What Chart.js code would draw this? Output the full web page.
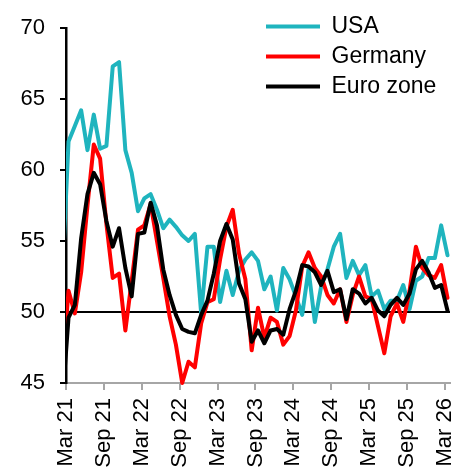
<!DOCTYPE html>
<html>
<head>
<meta charset="utf-8">
<script src="https://cdn.jsdelivr.net/npm/chart.js@4.4.1/dist/chart.umd.min.js"></script>
<style>
  html, body { margin: 0; padding: 0; background: #fff; }
  #wrap { width: 455px; height: 468px; }
</style>
</head>
<body>
<div id="wrap"><canvas id="pmi"></canvas></div>
<script>
// monthly readings, Feb 21 .. Mar 26 (Feb 21 sits just left of the axis and gets clipped)
const months = [
  'Feb 21', 'Mar 21', 'Apr 21', 'May 21', 'Jun 21', 'Jul 21', 'Aug 21', 'Sep 21', 'Oct 21', 'Nov 21', 'Dec 21',
  'Jan 22', 'Feb 22', 'Mar 22', 'Apr 22', 'May 22', 'Jun 22', 'Jul 22', 'Aug 22', 'Sep 22', 'Oct 22', 'Nov 22', 'Dec 22',
  'Jan 23', 'Feb 23', 'Mar 23', 'Apr 23', 'May 23', 'Jun 23', 'Jul 23', 'Aug 23', 'Sep 23', 'Oct 23', 'Nov 23', 'Dec 23',
  'Jan 24', 'Feb 24', 'Mar 24', 'Apr 24', 'May 24', 'Jun 24', 'Jul 24', 'Aug 24', 'Sep 24', 'Oct 24', 'Nov 24', 'Dec 24',
  'Jan 25', 'Feb 25', 'Mar 25', 'Apr 25', 'May 25', 'Jun 25', 'Jul 25', 'Aug 25', 'Sep 25', 'Oct 25', 'Nov 25', 'Dec 25',
  'Jan 26', 'Feb 26', 'Mar 26'
];

const tickLabels = ['Mar 21', 'Sep 21', 'Mar 22', 'Sep 22', 'Mar 23', 'Sep 23', 'Mar 24', 'Sep 24', 'Mar 25', 'Sep 25', 'Mar 26'];
const yTicks = [45, 50, 55, 60, 65, 70];

const usa = [52.3,
  62.0, 63.1, 64.2, 61.4, 63.9, 61.5, 61.7, 67.3, 67.6, 61.4,
  59.8, 57.1, 58.0, 58.3, 57.2, 55.9, 56.5, 56.0, 55.4, 55.0, 55.5, 49.9,
  54.6, 54.6, 50.7, 52.9, 51.2, 52.9, 53.7, 54.2, 53.6, 51.6, 52.5, 50.1,
  53.1, 52.3, 51.1, 49.8, 53.0, 49.3, 51.8, 53.0, 54.6, 55.5, 52.4, 53.6,
  52.6, 53.3, 51.1, 51.5, 50.2, 50.8, 50.8, 51.9, 50.2, 52.2, 52.5, 53.8,
  53.8, 56.1, 54.0];

const germany = [45.7,
  51.5, 49.9, 52.8, 57.5, 61.8, 60.8, 56.2, 52.4, 52.7, 48.7,
  52.2, 55.8, 56.1, 57.6, 55.0, 52.4, 49.7, 47.7, 45.0, 46.5, 46.1, 49.2,
  50.7, 50.9, 53.7, 56.0, 57.2, 54.1, 52.3, 47.3, 50.3, 48.2, 49.6, 49.3,
  47.7, 48.3, 50.1, 53.2, 54.2, 53.1, 52.5, 51.2, 50.6, 51.6, 49.3, 51.2,
  52.5, 51.1, 50.9, 49.0, 47.1, 49.7, 50.6, 49.3, 51.5, 54.6, 53.1, 52.6,
  52.4, 53.3, 51.0];

const euroZone = [43.5,
  49.6, 50.5, 55.2, 58.3, 59.8, 59.0, 56.4, 54.6, 55.9, 53.1,
  51.1, 55.5, 55.6, 57.7, 56.1, 53.0, 51.2, 49.8, 48.8, 48.6, 48.5, 49.8,
  50.8, 52.7, 55.0, 56.2, 55.1, 52.0, 50.9, 47.9, 48.7, 47.8, 48.7, 48.8,
  48.4, 50.2, 51.5, 53.3, 53.2, 52.8, 51.9, 52.9, 51.4, 51.6, 49.5, 51.6,
  51.3, 50.6, 51.0, 50.1, 49.7, 50.5, 51.0, 50.5, 51.3, 53.0, 53.6, 52.8,
  51.7, 51.9, 50.1];

// readings are plotted a little after the month tick (x = months since Mar 21)
const MID = 0.4;
function toPoints(values) {
  return values.map(function (v, k) { return { x: k - 1 + MID, y: v }; });
}

const TEAL = '#1fb4be';
const RED = '#ff0000';
const BLACK = '#000000';

Chart.defaults.font.family = '"Liberation Sans", Arial, sans-serif';
Chart.defaults.color = '#000';

// legend sits inside the plot, top right
const legendSpot = {
  id: 'legendSpot',
  afterLayout: function (chart) {
    const lg = chart.legend;
    if (!lg) return;
    lg.left = 259;
    lg.right = chart.width;
    lg.width = lg.right - lg.left;
    lg.top = 8;
    lg.bottom = chart.chartArea.bottom;
    lg.height = lg.bottom - lg.top;
  }
};

function line(label, values, color, order) {
  return {
    label: label,
    data: toPoints(values),
    borderColor: color,
    backgroundColor: color,
    borderWidth: 4,
    borderJoinStyle: 'round',
    borderCapStyle: 'round',
    pointRadius: 0,
    pointHoverRadius: 0,
    tension: 0,
    fill: false,
    order: order,
    clip: { left: 0, top: false, right: false, bottom: false }
  };
}

const ctx = document.getElementById('pmi');
new Chart(ctx, {
  type: 'line',
  data: {
    datasets: [
      line('USA', usa, TEAL, 3),
      line('Germany', germany, RED, 2),
      line('Euro zone', euroZone, BLACK, 1)
    ]
  },
  options: {
    responsive: true,
    maintainAspectRatio: false,
    animation: false,
    devicePixelRatio: 1,
    layout: { padding: { top: 28, right: 5, left: 0, bottom: 0 } },
    plugins: {
      tooltip: { enabled: false },
      legend: {
        position: 'chartArea',
        align: 'start',
        labels: {
          usePointStyle: true,
          pointStyle: 'line',
          pointStyleWidth: 54,
          padding: 7,
          font: { size: 23 },
          color: '#000',
          sort: function (a, b) { return a.datasetIndex - b.datasetIndex; }
        }
      }
    },
    scales: {
      x: {
        type: 'linear',
        min: 0,
        max: 60.8,
        ticks: {
          stepSize: 6,
          autoSkip: false,
          minRotation: 90,
          maxRotation: 90,
          padding: 8,
          font: { size: 22 },
          color: '#000',
          callback: function (v) { return tickLabels[v / 6]; }
        },
        afterBuildTicks: function (scale) {
          scale.ticks = tickLabels.map(function (_, k) { return { value: k * 6 }; });
        },
        afterFit: function (scale) {
          scale.height = 85;
          scale.paddingLeft = 0;
          scale.paddingRight = 0;
        },
        grid: {
          drawOnChartArea: false,
          drawTicks: true,
          tickLength: 7,
          color: '#a6a6a6',
          lineWidth: 2
        },
        border: { color: '#a6a6a6', width: 2 }
      },
      y: {
        min: 45,
        max: 70,
        afterBuildTicks: function (scale) {
          scale.ticks = yTicks.map(function (v) { return { value: v }; });
        },
        afterFit: function (scale) {
          scale.width = 66;
          scale.paddingTop = 0;
          scale.paddingBottom = 0;
        },
        ticks: {
          padding: 15,
          font: { size: 22 },
          color: '#000'
        },
        grid: {
          drawOnChartArea: true,
          tickLength: 6,
          lineWidth: 2,
          tickColor: '#000',
          color: function (c) { return c.tick && c.tick.value === 50 ? '#000' : 'rgba(0,0,0,0)'; }
        },
        border: { color: '#000', width: 2.5 }
      }
    }
  },
  plugins: [legendSpot]
});
</script>
</body>
</html>
